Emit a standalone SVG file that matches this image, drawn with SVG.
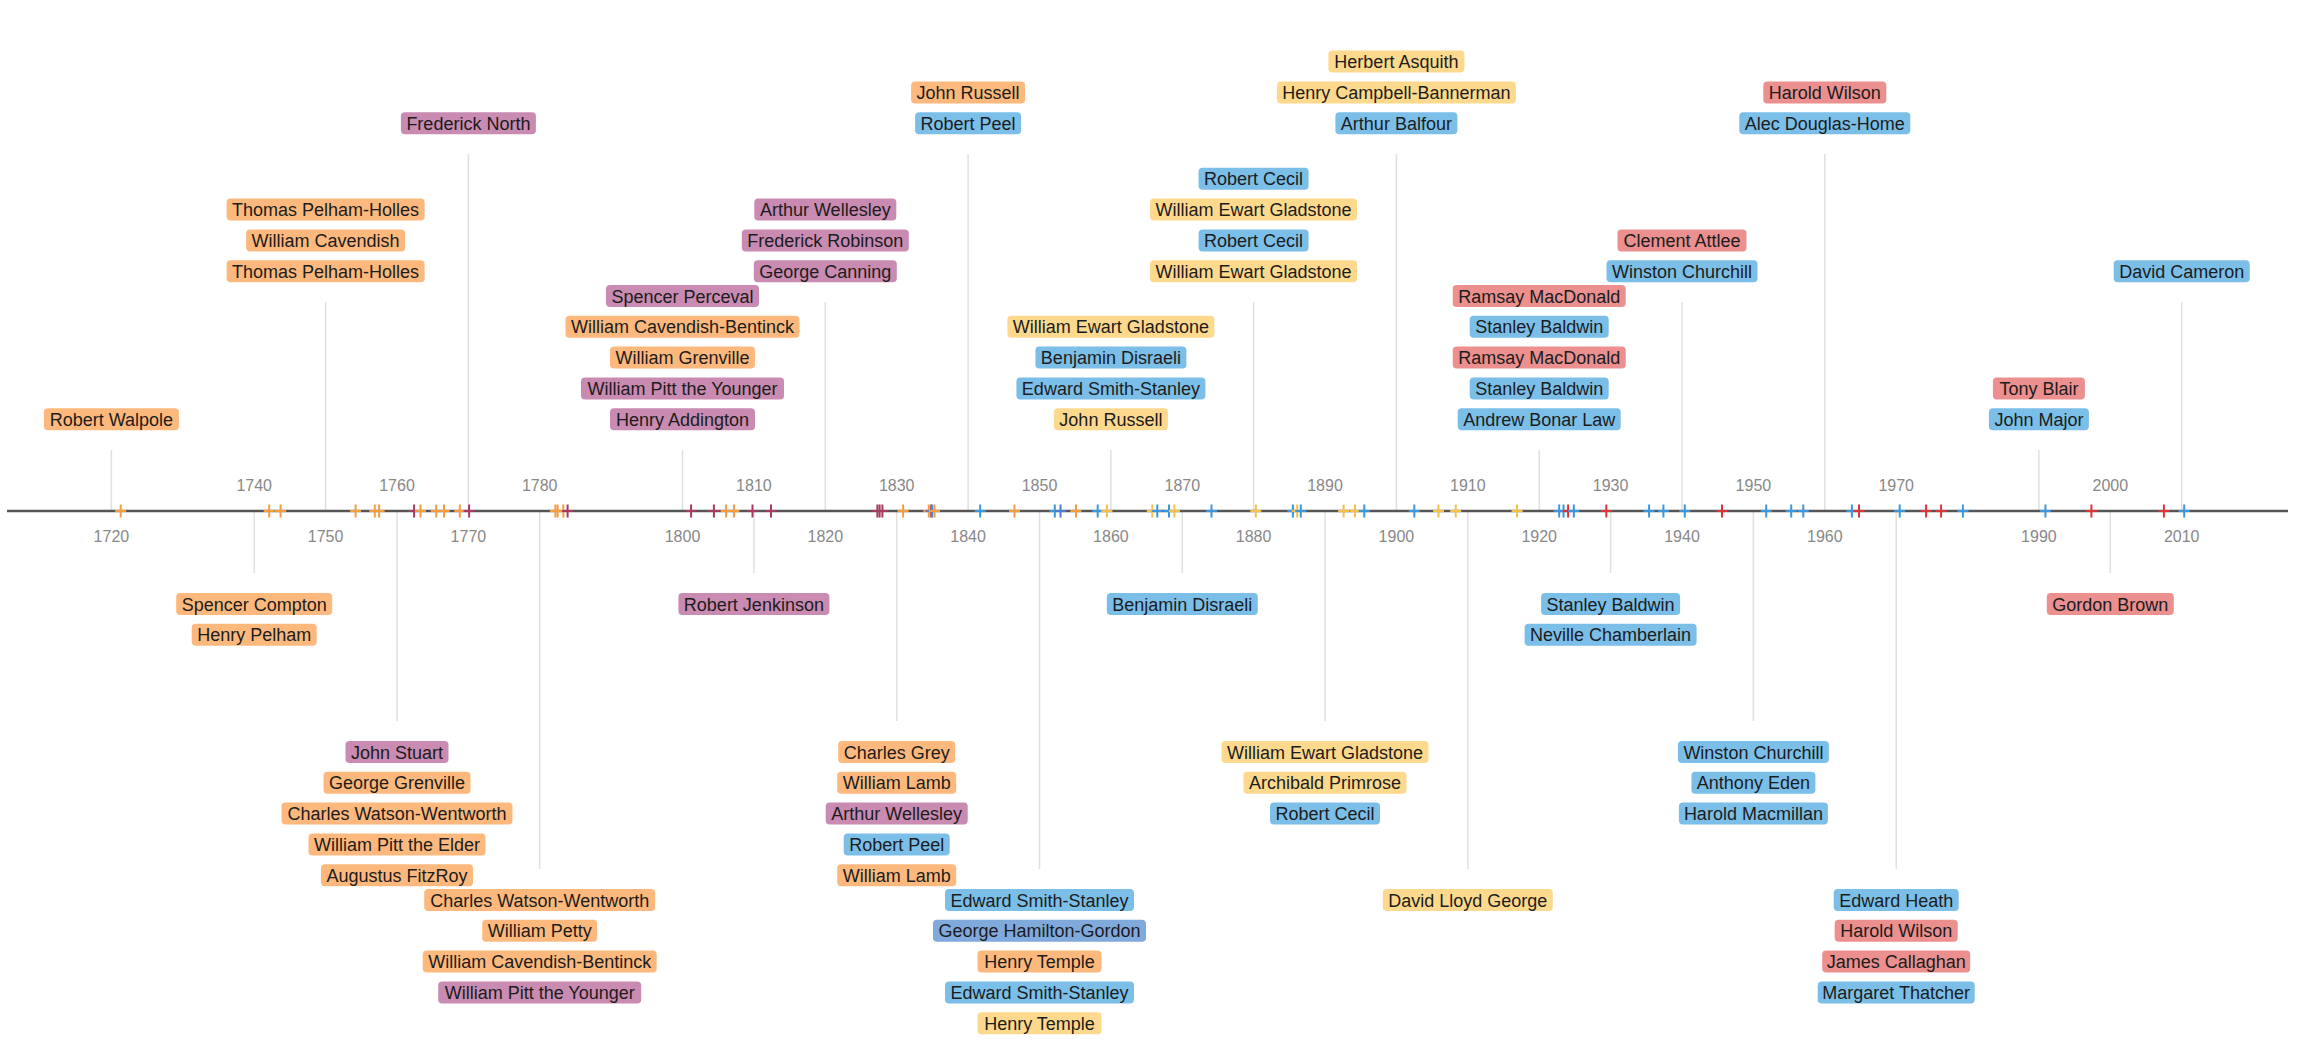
<svg xmlns="http://www.w3.org/2000/svg" xmlns:xlink="http://www.w3.org/1999/xlink" width="2299" height="1040" viewBox="0 0 2299 1040">
<style>
.n rect{rx:4;ry:4}
.n text{font-family:"Liberation Sans",Arial,sans-serif;font-size:18px;fill:#1c1c1c;text-anchor:middle}
.w rect{fill:#fdb97d}
.t rect{fill:#c98bb1}
.c rect{fill:#7bbfe9}
.l rect{fill:#fdd98e}
.lab rect{fill:#eb8f8f}
.p rect{fill:#80a9dc}
.guide line{stroke:#e0e0e0;stroke-width:1.5}
.yr{font-family:"Liberation Sans",Arial,sans-serif;font-size:16px;fill:#888;text-anchor:middle}
.tk{fill:none;stroke-width:2}
.tw{stroke:#f59c3f}.tt{stroke:#a63a63}.tc{stroke:#3a97dc}.tl{stroke:#f6c14b}.tlab{stroke:#d9363c}.tp{stroke:#4a7fcf}
</style>
<defs>
<path id="plus" d="M0,-6.5V6.5M-5.5,0H5.5"/>
</defs>
<rect width="2299" height="1040" fill="#fff"/>
<g id="connectors" class="guide">
<line x1="111.4" y1="511" x2="111.4" y2="450"/>
<line x1="325.6" y1="511" x2="325.6" y2="302"/>
<line x1="468.4" y1="511" x2="468.4" y2="154"/>
<line x1="682.5" y1="511" x2="682.5" y2="450"/>
<line x1="825.3" y1="511" x2="825.3" y2="302"/>
<line x1="968.1" y1="511" x2="968.1" y2="154"/>
<line x1="1110.9" y1="511" x2="1110.9" y2="450"/>
<line x1="1253.6" y1="511" x2="1253.6" y2="302"/>
<line x1="1396.4" y1="511" x2="1396.4" y2="154"/>
<line x1="1539.2" y1="511" x2="1539.2" y2="450"/>
<line x1="1682" y1="511" x2="1682" y2="302"/>
<line x1="1824.8" y1="511" x2="1824.8" y2="154"/>
<line x1="2038.9" y1="511" x2="2038.9" y2="450"/>
<line x1="2181.7" y1="511" x2="2181.7" y2="302"/>
<line x1="254.2" y1="511" x2="254.2" y2="573"/>
<line x1="397" y1="511" x2="397" y2="721"/>
<line x1="539.7" y1="511" x2="539.7" y2="869"/>
<line x1="753.9" y1="511" x2="753.9" y2="573"/>
<line x1="896.7" y1="511" x2="896.7" y2="721"/>
<line x1="1039.5" y1="511" x2="1039.5" y2="869"/>
<line x1="1182.3" y1="511" x2="1182.3" y2="573"/>
<line x1="1325" y1="511" x2="1325" y2="721"/>
<line x1="1467.8" y1="511" x2="1467.8" y2="869"/>
<line x1="1610.6" y1="511" x2="1610.6" y2="573"/>
<line x1="1753.4" y1="511" x2="1753.4" y2="721"/>
<line x1="1896.2" y1="511" x2="1896.2" y2="869"/>
<line x1="2110.3" y1="511" x2="2110.3" y2="573"/>
</g>
<g id="axis">
<line x1="7" y1="511" x2="2288" y2="511" stroke="#555" stroke-width="2.5"/>
<g class="yr">
<text x="254.2" y="491">1740</text><text x="397" y="491">1760</text><text x="539.7" y="491">1780</text><text x="753.9" y="491">1810</text><text x="896.7" y="491">1830</text><text x="1039.5" y="491">1850</text><text x="1182.3" y="491">1870</text><text x="1325" y="491">1890</text><text x="1467.8" y="491">1910</text><text x="1610.6" y="491">1930</text><text x="1753.4" y="491">1950</text><text x="1896.2" y="491">1970</text><text x="2110.3" y="491">2000</text>
<text x="111.4" y="542">1720</text><text x="325.6" y="542">1750</text><text x="468.4" y="542">1770</text><text x="682.5" y="542">1800</text><text x="825.3" y="542">1820</text><text x="968.1" y="542">1840</text><text x="1110.9" y="542">1860</text><text x="1253.6" y="542">1880</text><text x="1396.4" y="542">1900</text><text x="1539.2" y="542">1920</text><text x="1682" y="542">1940</text><text x="1824.8" y="542">1960</text><text x="2038.9" y="542">1990</text><text x="2181.7" y="542">2010</text>
</g>
</g>
<g id="ticks" class="tk">
<use xlink:href="#plus" x="120.7" y="511" class="tw"/>
<use xlink:href="#plus" x="269.2" y="511" class="tw"/>
<use xlink:href="#plus" x="280.6" y="511" class="tw"/>
<use xlink:href="#plus" x="355.6" y="511" class="tw"/>
<use xlink:href="#plus" x="374.8" y="511" class="tw"/>
<use xlink:href="#plus" x="379.1" y="511" class="tw"/>
<use xlink:href="#plus" x="414.1" y="511" class="tt"/>
<use xlink:href="#plus" x="420.5" y="511" class="tw"/>
<use xlink:href="#plus" x="436.2" y="511" class="tw"/>
<use xlink:href="#plus" x="444.1" y="511" class="tw"/>
<use xlink:href="#plus" x="459.8" y="511" class="tw"/>
<use xlink:href="#plus" x="469.1" y="511" class="tt"/>
<use xlink:href="#plus" x="555.4" y="511" class="tw"/>
<use xlink:href="#plus" x="557.6" y="511" class="tw"/>
<use xlink:href="#plus" x="563.3" y="511" class="tw"/>
<use xlink:href="#plus" x="567.6" y="511" class="tt"/>
<use xlink:href="#plus" x="691.1" y="511" class="tt"/>
<use xlink:href="#plus" x="713.9" y="511" class="tt"/>
<use xlink:href="#plus" x="726.1" y="511" class="tw"/>
<use xlink:href="#plus" x="733.9" y="511" class="tw"/>
<use xlink:href="#plus" x="752.5" y="511" class="tt"/>
<use xlink:href="#plus" x="771" y="511" class="tt"/>
<use xlink:href="#plus" x="877.4" y="511" class="tt"/>
<use xlink:href="#plus" x="879.6" y="511" class="tt"/>
<use xlink:href="#plus" x="882.4" y="511" class="tt"/>
<use xlink:href="#plus" x="903.1" y="511" class="tw"/>
<use xlink:href="#plus" x="928.8" y="511" class="tw"/>
<use xlink:href="#plus" x="931.2" y="511" class="tt"/>
<use xlink:href="#plus" x="932.2" y="511" class="tc"/>
<use xlink:href="#plus" x="934.5" y="511" class="tw"/>
<use xlink:href="#plus" x="980.2" y="511" class="tc"/>
<use xlink:href="#plus" x="1014.5" y="511" class="tw"/>
<use xlink:href="#plus" x="1054.8" y="511" class="tc"/>
<use xlink:href="#plus" x="1060.5" y="511" class="tp"/>
<use xlink:href="#plus" x="1075.9" y="511" class="tw"/>
<use xlink:href="#plus" x="1097.7" y="511" class="tc"/>
<use xlink:href="#plus" x="1106.9" y="511" class="tl"/>
<use xlink:href="#plus" x="1152.3" y="511" class="tl"/>
<use xlink:href="#plus" x="1157.3" y="511" class="tc"/>
<use xlink:href="#plus" x="1169" y="511" class="tc"/>
<use xlink:href="#plus" x="1174.4" y="511" class="tl"/>
<use xlink:href="#plus" x="1211.5" y="511" class="tc"/>
<use xlink:href="#plus" x="1255.8" y="511" class="tl"/>
<use xlink:href="#plus" x="1292.9" y="511" class="tc"/>
<use xlink:href="#plus" x="1297.2" y="511" class="tl"/>
<use xlink:href="#plus" x="1300.8" y="511" class="tc"/>
<use xlink:href="#plus" x="1343.6" y="511" class="tl"/>
<use xlink:href="#plus" x="1355" y="511" class="tl"/>
<use xlink:href="#plus" x="1364.3" y="511" class="tc"/>
<use xlink:href="#plus" x="1414.3" y="511" class="tc"/>
<use xlink:href="#plus" x="1438.5" y="511" class="tl"/>
<use xlink:href="#plus" x="1455.7" y="511" class="tl"/>
<use xlink:href="#plus" x="1517.1" y="511" class="tl"/>
<use xlink:href="#plus" x="1559.2" y="511" class="tc"/>
<use xlink:href="#plus" x="1563.5" y="511" class="tc"/>
<use xlink:href="#plus" x="1568.1" y="511" class="tlab"/>
<use xlink:href="#plus" x="1573.8" y="511" class="tc"/>
<use xlink:href="#plus" x="1606.3" y="511" class="tlab"/>
<use xlink:href="#plus" x="1649.1" y="511" class="tc"/>
<use xlink:href="#plus" x="1663.4" y="511" class="tc"/>
<use xlink:href="#plus" x="1684.8" y="511" class="tc"/>
<use xlink:href="#plus" x="1722" y="511" class="tlab"/>
<use xlink:href="#plus" x="1766.2" y="511" class="tc"/>
<use xlink:href="#plus" x="1791.2" y="511" class="tc"/>
<use xlink:href="#plus" x="1803.3" y="511" class="tc"/>
<use xlink:href="#plus" x="1851.9" y="511" class="tc"/>
<use xlink:href="#plus" x="1859" y="511" class="tlab"/>
<use xlink:href="#plus" x="1899.7" y="511" class="tc"/>
<use xlink:href="#plus" x="1926.1" y="511" class="tlab"/>
<use xlink:href="#plus" x="1941.1" y="511" class="tlab"/>
<use xlink:href="#plus" x="1962.9" y="511" class="tc"/>
<use xlink:href="#plus" x="2045.4" y="511" class="tc"/>
<use xlink:href="#plus" x="2091.4" y="511" class="tlab"/>
<use xlink:href="#plus" x="2163.9" y="511" class="tlab"/>
<use xlink:href="#plus" x="2184.2" y="511" class="tc"/>
</g>
<g id="nodes">
<g id="s1720" class="n">
<g id="n-walpole" class="w"><rect x="43.9" y="408.2" width="135" height="22"/><text x="111.4" y="425.7">Robert Walpole</text></g>
</g>
<g id="s1740" class="n">
<g id="n-compton" class="w"><rect x="176.2" y="593" width="156" height="22"/><text x="254.2" y="610.5">Spencer Compton</text></g>
<g id="n-pelham" class="w"><rect x="191.7" y="623.8" width="125" height="22"/><text x="254.2" y="641.3">Henry Pelham</text></g>
</g>
<g id="s1750" class="n">
<g id="n-newcastle1" class="w"><rect x="226.6" y="260.2" width="198" height="22"/><text x="325.6" y="277.7">Thomas Pelham-Holles</text></g>
<g id="n-devonshire" class="w"><rect x="246.1" y="229.4" width="159" height="22"/><text x="325.6" y="246.9">William Cavendish</text></g>
<g id="n-newcastle2" class="w"><rect x="226.6" y="198.6" width="198" height="22"/><text x="325.6" y="216.1">Thomas Pelham-Holles</text></g>
</g>
<g id="s1760" class="n">
<g id="n-bute" class="t"><rect x="345.5" y="741" width="103" height="22"/><text x="397" y="758.5">John Stuart</text></g>
<g id="n-grenville" class="w"><rect x="323.5" y="771.8" width="147" height="22"/><text x="397" y="789.3">George Grenville</text></g>
<g id="n-rockingham1" class="w"><rect x="281.5" y="802.6" width="231" height="22"/><text x="397" y="820.1">Charles Watson-Wentworth</text></g>
<g id="n-chatham" class="w"><rect x="308.5" y="833.4" width="177" height="22"/><text x="397" y="850.9">William Pitt the Elder</text></g>
<g id="n-grafton" class="w"><rect x="321" y="864.2" width="152" height="22"/><text x="397" y="881.7">Augustus FitzRoy</text></g>
</g>
<g id="s1770" class="n">
<g id="n-north" class="t"><rect x="400.9" y="112.2" width="135" height="22"/><text x="468.4" y="129.7">Frederick North</text></g>
</g>
<g id="s1780" class="n">
<g id="n-rockingham2" class="w"><rect x="424.2" y="889" width="231" height="22"/><text x="539.7" y="906.5">Charles Watson-Wentworth</text></g>
<g id="n-shelburne" class="w"><rect x="482.2" y="919.8" width="115" height="22"/><text x="539.7" y="937.3">William Petty</text></g>
<g id="n-portland1" class="w"><rect x="422.7" y="950.6" width="234" height="22"/><text x="539.7" y="968.1">William Cavendish-Bentinck</text></g>
<g id="n-pitt1" class="t"><rect x="438.2" y="981.4" width="203" height="22"/><text x="539.7" y="998.9">William Pitt the Younger</text></g>
</g>
<g id="s1800" class="n">
<g id="n-addington" class="t"><rect x="610" y="408.2" width="145" height="22"/><text x="682.5" y="425.7">Henry Addington</text></g>
<g id="n-pitt2" class="t"><rect x="581" y="377.4" width="203" height="22"/><text x="682.5" y="394.9">William Pitt the Younger</text></g>
<g id="n-wgrenville" class="w"><rect x="610" y="346.6" width="145" height="22"/><text x="682.5" y="364.1">William Grenville</text></g>
<g id="n-portland2" class="w"><rect x="565.5" y="315.8" width="234" height="22"/><text x="682.5" y="333.3">William Cavendish-Bentinck</text></g>
<g id="n-perceval" class="t"><rect x="606" y="285" width="153" height="22"/><text x="682.5" y="302.5">Spencer Perceval</text></g>
</g>
<g id="s1810" class="n">
<g id="n-liverpool" class="t"><rect x="678.4" y="593" width="151" height="22"/><text x="753.9" y="610.5">Robert Jenkinson</text></g>
</g>
<g id="s1820" class="n">
<g id="n-canning" class="t"><rect x="753.8" y="260.2" width="143" height="22"/><text x="825.3" y="277.7">George Canning</text></g>
<g id="n-goderich" class="t"><rect x="741.8" y="229.4" width="167" height="22"/><text x="825.3" y="246.9">Frederick Robinson</text></g>
<g id="n-wellington1" class="t"><rect x="754.3" y="198.6" width="142" height="22"/><text x="825.3" y="216.1">Arthur Wellesley</text></g>
</g>
<g id="s1830" class="n">
<g id="n-grey" class="w"><rect x="838.2" y="741" width="117" height="22"/><text x="896.7" y="758.5">Charles Grey</text></g>
<g id="n-melbourne1" class="w"><rect x="837.2" y="771.8" width="119" height="22"/><text x="896.7" y="789.3">William Lamb</text></g>
<g id="n-wellington2" class="t"><rect x="825.7" y="802.6" width="142" height="22"/><text x="896.7" y="820.1">Arthur Wellesley</text></g>
<g id="n-peel1" class="c"><rect x="843.7" y="833.4" width="106" height="22"/><text x="896.7" y="850.9">Robert Peel</text></g>
<g id="n-melbourne2" class="w"><rect x="837.2" y="864.2" width="119" height="22"/><text x="896.7" y="881.7">William Lamb</text></g>
</g>
<g id="s1840" class="n">
<g id="n-peel2" class="c"><rect x="915.1" y="112.2" width="106" height="22"/><text x="968.1" y="129.7">Robert Peel</text></g>
<g id="n-russell1" class="w"><rect x="911.1" y="81.4" width="114" height="22"/><text x="968.1" y="98.9">John Russell</text></g>
</g>
<g id="s1850" class="n">
<g id="n-derby1" class="c"><rect x="945" y="889" width="189" height="22"/><text x="1039.5" y="906.5">Edward Smith-Stanley</text></g>
<g id="n-aberdeen" class="p"><rect x="933" y="919.8" width="213" height="22"/><text x="1039.5" y="937.3">George Hamilton-Gordon</text></g>
<g id="n-palmerston1" class="w"><rect x="977.5" y="950.6" width="124" height="22"/><text x="1039.5" y="968.1">Henry Temple</text></g>
<g id="n-derby2" class="c"><rect x="945" y="981.4" width="189" height="22"/><text x="1039.5" y="998.9">Edward Smith-Stanley</text></g>
<g id="n-palmerston2" class="l"><rect x="977.5" y="1012.2" width="124" height="22"/><text x="1039.5" y="1029.7">Henry Temple</text></g>
</g>
<g id="s1860" class="n">
<g id="n-russell2" class="l"><rect x="1053.9" y="408.2" width="114" height="22"/><text x="1110.9" y="425.7">John Russell</text></g>
<g id="n-derby3" class="c"><rect x="1016.4" y="377.4" width="189" height="22"/><text x="1110.9" y="394.9">Edward Smith-Stanley</text></g>
<g id="n-disraeli1" class="c"><rect x="1035.4" y="346.6" width="151" height="22"/><text x="1110.9" y="364.1">Benjamin Disraeli</text></g>
<g id="n-gladstone1" class="l"><rect x="1007.4" y="315.8" width="207" height="22"/><text x="1110.9" y="333.3">William Ewart Gladstone</text></g>
</g>
<g id="s1870" class="n">
<g id="n-disraeli2" class="c"><rect x="1106.8" y="593" width="151" height="22"/><text x="1182.3" y="610.5">Benjamin Disraeli</text></g>
</g>
<g id="s1880" class="n">
<g id="n-gladstone2" class="l"><rect x="1150.1" y="260.2" width="207" height="22"/><text x="1253.6" y="277.7">William Ewart Gladstone</text></g>
<g id="n-salisbury1" class="c"><rect x="1198.6" y="229.4" width="110" height="22"/><text x="1253.6" y="246.9">Robert Cecil</text></g>
<g id="n-gladstone3" class="l"><rect x="1150.1" y="198.6" width="207" height="22"/><text x="1253.6" y="216.1">William Ewart Gladstone</text></g>
<g id="n-salisbury2" class="c"><rect x="1198.6" y="167.8" width="110" height="22"/><text x="1253.6" y="185.3">Robert Cecil</text></g>
</g>
<g id="s1890" class="n">
<g id="n-gladstone4" class="l"><rect x="1221.5" y="741" width="207" height="22"/><text x="1325" y="758.5">William Ewart Gladstone</text></g>
<g id="n-rosebery" class="l"><rect x="1243.5" y="771.8" width="163" height="22"/><text x="1325" y="789.3">Archibald Primrose</text></g>
<g id="n-salisbury3" class="c"><rect x="1270" y="802.6" width="110" height="22"/><text x="1325" y="820.1">Robert Cecil</text></g>
</g>
<g id="s1900" class="n">
<g id="n-balfour" class="c"><rect x="1335.4" y="112.2" width="122" height="22"/><text x="1396.4" y="129.7">Arthur Balfour</text></g>
<g id="n-cb" class="l"><rect x="1276.9" y="81.4" width="239" height="22"/><text x="1396.4" y="98.9">Henry Campbell-Bannerman</text></g>
<g id="n-asquith" class="l"><rect x="1328.4" y="50.6" width="136" height="22"/><text x="1396.4" y="68.1">Herbert Asquith</text></g>
</g>
<g id="s1910" class="n">
<g id="n-lloydgeorge" class="l"><rect x="1382.8" y="889" width="170" height="22"/><text x="1467.8" y="906.5">David Lloyd George</text></g>
</g>
<g id="s1920" class="n">
<g id="n-law" class="c"><rect x="1457.7" y="408.2" width="163" height="22"/><text x="1539.2" y="425.7">Andrew Bonar Law</text></g>
<g id="n-baldwin1" class="c"><rect x="1469.7" y="377.4" width="139" height="22"/><text x="1539.2" y="394.9">Stanley Baldwin</text></g>
<g id="n-macdonald1" class="lab"><rect x="1452.7" y="346.6" width="173" height="22"/><text x="1539.2" y="364.1">Ramsay MacDonald</text></g>
<g id="n-baldwin2" class="c"><rect x="1469.7" y="315.8" width="139" height="22"/><text x="1539.2" y="333.3">Stanley Baldwin</text></g>
<g id="n-macdonald2" class="lab"><rect x="1452.7" y="285" width="173" height="22"/><text x="1539.2" y="302.5">Ramsay MacDonald</text></g>
</g>
<g id="s1930" class="n">
<g id="n-baldwin3" class="c"><rect x="1541.1" y="593" width="139" height="22"/><text x="1610.6" y="610.5">Stanley Baldwin</text></g>
<g id="n-chamberlain" class="c"><rect x="1524.6" y="623.8" width="172" height="22"/><text x="1610.6" y="641.3">Neville Chamberlain</text></g>
</g>
<g id="s1940" class="n">
<g id="n-churchill1" class="c"><rect x="1606.5" y="260.2" width="151" height="22"/><text x="1682" y="277.7">Winston Churchill</text></g>
<g id="n-attlee" class="lab"><rect x="1617.5" y="229.4" width="129" height="22"/><text x="1682" y="246.9">Clement Attlee</text></g>
</g>
<g id="s1950" class="n">
<g id="n-churchill2" class="c"><rect x="1677.9" y="741" width="151" height="22"/><text x="1753.4" y="758.5">Winston Churchill</text></g>
<g id="n-eden" class="c"><rect x="1691.4" y="771.8" width="124" height="22"/><text x="1753.4" y="789.3">Anthony Eden</text></g>
<g id="n-macmillan" class="c"><rect x="1678.9" y="802.6" width="149" height="22"/><text x="1753.4" y="820.1">Harold Macmillan</text></g>
</g>
<g id="s1960" class="n">
<g id="n-douglashome" class="c"><rect x="1739.3" y="112.2" width="171" height="22"/><text x="1824.8" y="129.7">Alec Douglas-Home</text></g>
<g id="n-wilson1" class="lab"><rect x="1763.3" y="81.4" width="123" height="22"/><text x="1824.8" y="98.9">Harold Wilson</text></g>
</g>
<g id="s1970" class="n">
<g id="n-heath" class="c"><rect x="1833.7" y="889" width="125" height="22"/><text x="1896.2" y="906.5">Edward Heath</text></g>
<g id="n-wilson2" class="lab"><rect x="1834.7" y="919.8" width="123" height="22"/><text x="1896.2" y="937.3">Harold Wilson</text></g>
<g id="n-callaghan" class="lab"><rect x="1822.2" y="950.6" width="148" height="22"/><text x="1896.2" y="968.1">James Callaghan</text></g>
<g id="n-thatcher" class="c"><rect x="1817.7" y="981.4" width="157" height="22"/><text x="1896.2" y="998.9">Margaret Thatcher</text></g>
</g>
<g id="s1990" class="n">
<g id="n-major" class="c"><rect x="1988.9" y="408.2" width="100" height="22"/><text x="2038.9" y="425.7">John Major</text></g>
<g id="n-blair" class="lab"><rect x="1992.9" y="377.4" width="92" height="22"/><text x="2038.9" y="394.9">Tony Blair</text></g>
</g>
<g id="s2000" class="n">
<g id="n-brown" class="lab"><rect x="2046.8" y="593" width="127" height="22"/><text x="2110.3" y="610.5">Gordon Brown</text></g>
</g>
<g id="s2010" class="n">
<g id="n-cameron" class="c"><rect x="2113.7" y="260.2" width="136" height="22"/><text x="2181.7" y="277.7">David Cameron</text></g>
</g>
</g>
</svg>
